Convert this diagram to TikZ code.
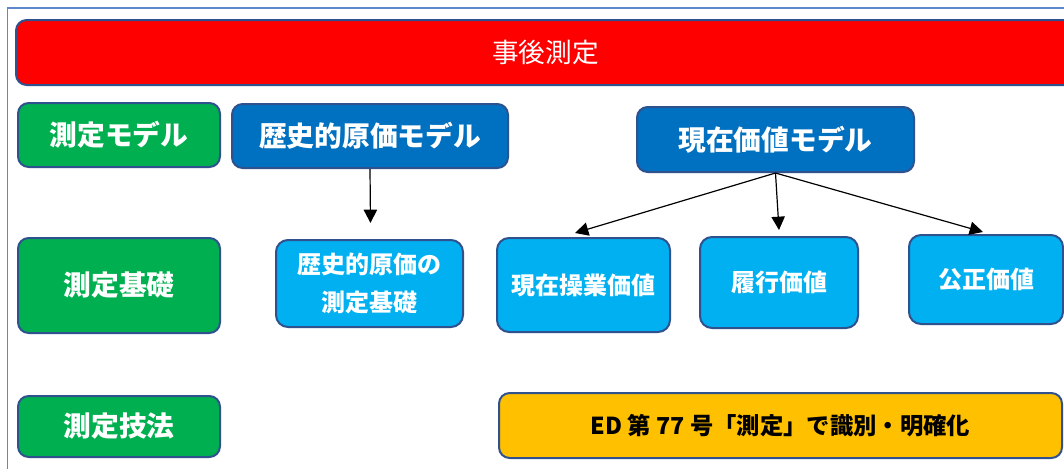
\documentclass[tikz,border=0pt]{standalone}
\usepackage{fontspec}
\newfontfamily\jp{Noto Sans CJK JP}
\usetikzlibrary{arrows.meta}
\definecolor{bordc}{HTML}{2F528F}
\definecolor{framec}{HTML}{5F88CC}
\definecolor{gbox}{HTML}{00B050}
\definecolor{dbox}{HTML}{0070C0}
\definecolor{lbox}{HTML}{00B0F0}
\definecolor{obox}{HTML}{FFC000}
\definecolor{rbox}{HTML}{FF0000}
\begin{document}
\begin{tikzpicture}[x=0.75pt,y=-0.75pt,
  box/.style={draw=bordc, line width=1.5pt, rounded corners=8pt, inner sep=0pt, align=center},
  greenbox/.style={box, fill=gbox, text=white, font=\jp\bfseries\fontsize{20.8}{24}\selectfont},
  darkbox/.style={box, fill=dbox, text=white, font=\jp\bfseries\fontsize{20.8}{24}\selectfont},
  lightbox/.style={box, fill=lbox, text=white, rounded corners=9pt, font=\jp\bfseries\fontsize{18}{28.5}\selectfont},
  arr/.style={-{Triangle[length=10pt,width=10pt]}, line width=0.9pt, black}]
\useasboundingbox (0,0) rectangle (1064,468);
\fill[white] (0,0) rectangle (1064,468);
\draw[framec, line width=1.3pt] (7.5,470) -- (7.5,8.3) -- (1066,8.3);
% title
\node[box, fill=rbox, text=white, minimum width=1059*0.75pt, minimum height=65*0.75pt,
  font=\jp\fontsize{20}{24}\selectfont] (title) at (545.5,52.5) {事後測定};
% left labels
\node[greenbox, minimum width=202*0.75pt, minimum height=64*0.75pt] (m1) at (119,135) {測定モデル};
\node[greenbox, minimum width=202*0.75pt, minimum height=95*0.75pt] (m2) at (119,285.5) {測定基礎};
\node[greenbox, minimum width=202*0.75pt, minimum height=61*0.75pt] (m3) at (119,426.5) {測定技法};
% models
\node[darkbox, minimum width=276*0.75pt, minimum height=64*0.75pt] (hc) at (370,136) {歴史的原価モデル};
\node[darkbox, minimum width=277*0.75pt, minimum height=65*0.75pt] (pv) at (775.5,139.5) {現在価値モデル};
% bases
\node[lightbox, minimum width=187*0.75pt, minimum height=87*0.75pt] (hb) at (369.5,283.5) {歴史的原価の\\測定基礎};
\node[lightbox, minimum width=173*0.75pt, minimum height=94*0.75pt] (cov) at (583.5,285) {現在操業価値};
\node[lightbox, minimum width=158*0.75pt, minimum height=91*0.75pt] (ffv) at (779,282.5) {履行価値};
\node[lightbox, minimum width=154*0.75pt, minimum height=89*0.75pt] (fair) at (986,279.5) {公正価値};
% technique
\node[box, fill=obox, text=black, minimum width=563*0.75pt, minimum height=65*0.75pt,
  font=\jp\bfseries\fontsize{17.5}{20}\selectfont] (ed) at (780.5,425.5) {ED 第 77 号「測定」で識別・明確化};
% arrows
\coordinate (a1) at (370.5,223);
\coordinate (a2) at (575,233);
\coordinate (a3) at (779,230);
\coordinate (a4) at (983,232);
\draw[arr] (hc.south) -- (a1);
\draw[arr] (pv.south) -- (a2);
\draw[arr] (pv.south) -- (a3);
\draw[arr] (pv.south) -- (a4);
\end{tikzpicture}
\end{document}
